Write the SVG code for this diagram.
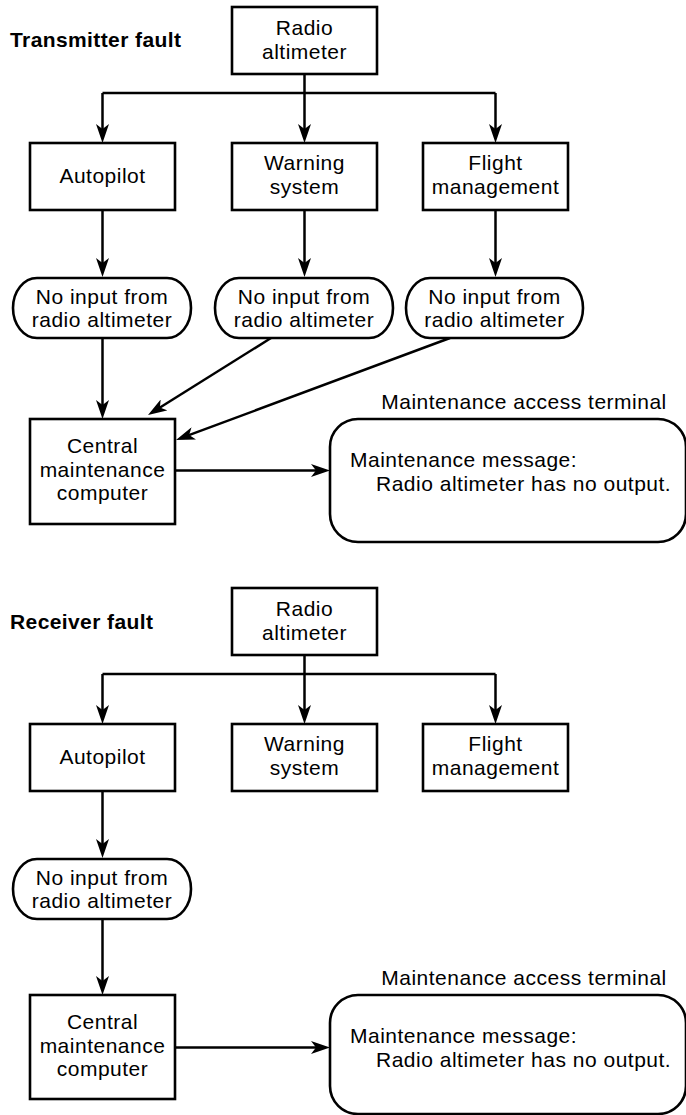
<svg xmlns="http://www.w3.org/2000/svg" width="686" height="1115" viewBox="0 0 686 1115">
<style>
.box{fill:#fff;stroke:#000;stroke-width:2.6}
.t{font-family:"Liberation Sans",Arial,sans-serif;font-size:21px;letter-spacing:0.5px;fill:#000;text-anchor:middle}
.l{text-anchor:start}
.title{font-family:"Liberation Sans",Arial,sans-serif;font-size:21px;font-weight:bold;letter-spacing:0.4px;fill:#000}
.c{fill:none;stroke:#000;stroke-width:2.5}
.a{marker-end:url(#arr)}
</style>
<defs>
<marker id="arr" markerUnits="userSpaceOnUse" markerWidth="20" markerHeight="13" refX="11" refY="6.5" orient="auto">
<path d="M0,0 L19,6.5 L0,13 L5,6.5 z" fill="#000"/>
</marker>
</defs>
<rect width="686" height="1115" fill="#fff"/>

<text class="title" x="10" y="47">Transmitter fault</text>
<text class="title" x="10" y="629">Receiver fault</text>

<g id="connectors">
<path class="c" d="M304.5,74 V93 M102.5,93 H495.5"/>
<path class="c a" d="M102.5,93 V135"/>
<path class="c a" d="M304.5,93 V135"/>
<path class="c a" d="M495.5,93 V135"/>
<path class="c a" d="M102.5,210 V269"/>
<path class="c a" d="M304.5,210 V269"/>
<path class="c a" d="M495.5,210 V269"/>
<path class="c a" d="M102.5,338 V411"/>
<path class="c a" d="M271,338 L154.8,410.8"/>
<path class="c a" d="M450,338 L183.5,437.2"/>
<path class="c a" d="M175,470.5 H322"/>

<path class="c" d="M304.5,655 V674 M102.5,674 H495.5"/>
<path class="c a" d="M102.5,674 V716"/>
<path class="c a" d="M304.5,674 V716"/>
<path class="c a" d="M495.5,674 V716"/>
<path class="c a" d="M102.5,791 V850"/>
<path class="c a" d="M102.5,919 V987"/>
<path class="c a" d="M175,1047.5 H322"/>
</g>

<g id="radio1"><rect class="box" x="232" y="7" width="145" height="67"/><text class="t" x="304.5" y="35">Radio</text><text class="t" x="304.5" y="58.5">altimeter</text></g>
<g id="autopilot1"><rect class="box" x="30" y="143" width="145" height="67"/><text class="t" x="102.5" y="183">Autopilot</text></g>
<g id="warning1"><rect class="box" x="232" y="143" width="145" height="67"/><text class="t" x="304.5" y="170">Warning</text><text class="t" x="304.5" y="193.5">system</text></g>
<g id="flight1"><rect class="box" x="423" y="143" width="145" height="67"/><text class="t" x="495.5" y="170">Flight</text><text class="t" x="495.5" y="193.5">management</text></g>
<g id="noinput1a"><rect class="box" x="13" y="278" width="178" height="60" rx="24" ry="30"/><text class="t" x="102" y="304">No input from</text><text class="t" x="102" y="327">radio altimeter</text></g>
<g id="noinput1b"><rect class="box" x="215" y="278" width="178" height="60" rx="24" ry="30"/><text class="t" x="304" y="304">No input from</text><text class="t" x="304" y="327">radio altimeter</text></g>
<g id="noinput1c"><rect class="box" x="406" y="278" width="177" height="60" rx="24" ry="30"/><text class="t" x="494.5" y="304">No input from</text><text class="t" x="494.5" y="327">radio altimeter</text></g>
<g id="cmc1"><rect class="box" x="30" y="419" width="145" height="105"/><text class="t" x="102.5" y="453">Central</text><text class="t" x="102.5" y="477">maintenance</text><text class="t" x="102.5" y="500">computer</text></g>
<g id="terminal1"><text class="t" x="524" y="409">Maintenance access terminal</text><rect class="box" x="330" y="419" width="356" height="123" rx="28" ry="28"/><text class="t l" x="350" y="467">Maintenance message:</text><text class="t l" x="376" y="490.5">Radio altimeter has no output.</text></g>

<g id="radio2"><rect class="box" x="232" y="588" width="145" height="67"/><text class="t" x="304.5" y="616">Radio</text><text class="t" x="304.5" y="639.5">altimeter</text></g>
<g id="autopilot2"><rect class="box" x="30" y="724" width="145" height="67"/><text class="t" x="102.5" y="764">Autopilot</text></g>
<g id="warning2"><rect class="box" x="232" y="724" width="145" height="67"/><text class="t" x="304.5" y="751">Warning</text><text class="t" x="304.5" y="774.5">system</text></g>
<g id="flight2"><rect class="box" x="423" y="724" width="145" height="67"/><text class="t" x="495.5" y="751">Flight</text><text class="t" x="495.5" y="774.5">management</text></g>
<g id="noinput2"><rect class="box" x="13" y="859" width="178" height="60" rx="24" ry="30"/><text class="t" x="102" y="885">No input from</text><text class="t" x="102" y="908">radio altimeter</text></g>
<g id="cmc2"><rect class="box" x="30" y="995" width="145" height="104"/><text class="t" x="102.5" y="1029">Central</text><text class="t" x="102.5" y="1053">maintenance</text><text class="t" x="102.5" y="1076">computer</text></g>
<g id="terminal2"><text class="t" x="524" y="985">Maintenance access terminal</text><rect class="box" x="330" y="995" width="356" height="119" rx="28" ry="28"/><text class="t l" x="350" y="1043">Maintenance message:</text><text class="t l" x="376" y="1066.5">Radio altimeter has no output.</text></g>
</svg>
